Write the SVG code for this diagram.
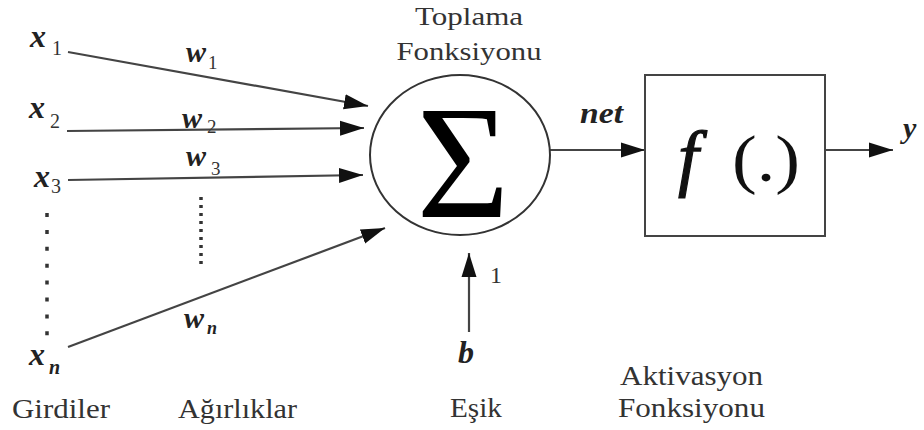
<svg xmlns="http://www.w3.org/2000/svg" width="924" height="430" viewBox="0 0 924 430" font-family="'Liberation Serif','Times New Roman',serif">
<style>
text{font-family:"Liberation Serif","Times New Roman",serif}
.t{fill:#333}
.i{font-style:italic;font-weight:bold;fill:#222}
.ln{stroke:#444;stroke-width:2.2;fill:none}
.dot{stroke:#333;stroke-width:3.5;fill:none}
</style>
<defs>
<marker id="ah" markerUnits="userSpaceOnUse" markerWidth="26" markerHeight="18" refX="24" refY="9" orient="auto">
<path d="M0,1.5 L24,9 L0,16.5 Z" fill="#111"/>
</marker>
</defs>
<rect width="924" height="430" fill="#fff"/>
<g id="connectors">
<line class="ln" x1="68" y1="52" x2="368" y2="106" marker-end="url(#ah)"/>
<line class="ln" x1="67" y1="131" x2="364" y2="128" marker-end="url(#ah)"/>
<line class="ln" x1="68" y1="180" x2="363" y2="175" marker-end="url(#ah)"/>
<line class="ln" x1="68" y1="347" x2="385" y2="228" marker-end="url(#ah)"/>
<line class="ln" x1="550" y1="150" x2="645" y2="150" marker-end="url(#ah)"/>
<line class="ln" x1="825" y1="150" x2="893" y2="150" marker-end="url(#ah)"/>
<line class="ln" x1="469" y1="332" x2="469" y2="253" marker-end="url(#ah)"/>
</g>
<g id="inputs">
<text class="t i" x="30" y="47" font-size="32">x</text><text class="t" x="52" y="55" font-size="20">1</text>
<text class="t i" x="29" y="118" font-size="32">x</text><text class="t" x="50" y="128" font-size="20">2</text>
<text class="t i" x="34" y="187" font-size="32">x</text><text class="t" x="51" y="193" font-size="20">3</text>
<text class="t i" x="29" y="365" font-size="32">x</text><text class="t i" x="49" y="374" font-size="20">n</text>
<line class="dot" x1="47" y1="213" x2="47" y2="336" stroke-dasharray="4 12.9"/>
</g>
<g id="weights">
<text class="t i" x="186" y="62" font-size="30">w</text><text class="t" x="208" y="69" font-size="19">1</text>
<text class="t i" x="182" y="128" font-size="30">w</text><text class="t" x="207" y="133" font-size="19">2</text>
<text class="t i" x="186" y="166" font-size="30">w</text><text class="t" x="211" y="175" font-size="19">3</text>
<text class="t i" x="184" y="328" font-size="30">w</text><text class="t i" x="207" y="334" font-size="18">n</text>
<line class="dot" x1="201" y1="197" x2="201" y2="266" stroke-dasharray="3 5"/>
</g>
<g id="sum">
<ellipse cx="460" cy="155" rx="90" ry="80" fill="none" stroke="#333" stroke-width="2"/>
<text x="463" y="217" font-size="160" text-anchor="middle" fill="#000">Σ</text>
<text class="t" x="469" y="25" font-size="26" text-anchor="middle" textLength="108" lengthAdjust="spacingAndGlyphs">Toplama</text>
<text class="t" x="469" y="60" font-size="26" text-anchor="middle" textLength="145" lengthAdjust="spacingAndGlyphs">Fonksiyonu</text>
</g>
<g id="bias">
<text class="t i" x="458" y="363" font-size="32">b</text>
<text class="t" x="490" y="283" font-size="24">1</text>
</g>
<g id="activation">
<rect x="645" y="75" width="180" height="161" fill="none" stroke="#444" stroke-width="2"/>
<text x="678" y="182" font-size="74" font-style="italic" fill="#111" stroke="#111" stroke-width="1.2">f</text>
<text x="732" y="181" font-size="66" textLength="68" lengthAdjust="spacingAndGlyphs" fill="#111">(.)</text>
<text class="t i" x="580" y="123" font-size="30" textLength="43" lengthAdjust="spacingAndGlyphs">net</text>
<text class="t i" x="903" y="138" font-size="30">y</text>
</g>
<g id="labels">
<text class="t" x="12" y="418" font-size="27" textLength="98" lengthAdjust="spacingAndGlyphs">Girdiler</text>
<text class="t" x="178" y="418" font-size="27" textLength="119" lengthAdjust="spacingAndGlyphs">Ağırlıklar</text>
<text class="t" x="450" y="417" font-size="27" textLength="52" lengthAdjust="spacingAndGlyphs">Eşik</text>
<text class="t" x="620" y="385" font-size="27" textLength="143" lengthAdjust="spacingAndGlyphs">Aktivasyon</text>
<text class="t" x="618" y="417" font-size="27" textLength="147" lengthAdjust="spacingAndGlyphs">Fonksiyonu</text>
</g>
</svg>
